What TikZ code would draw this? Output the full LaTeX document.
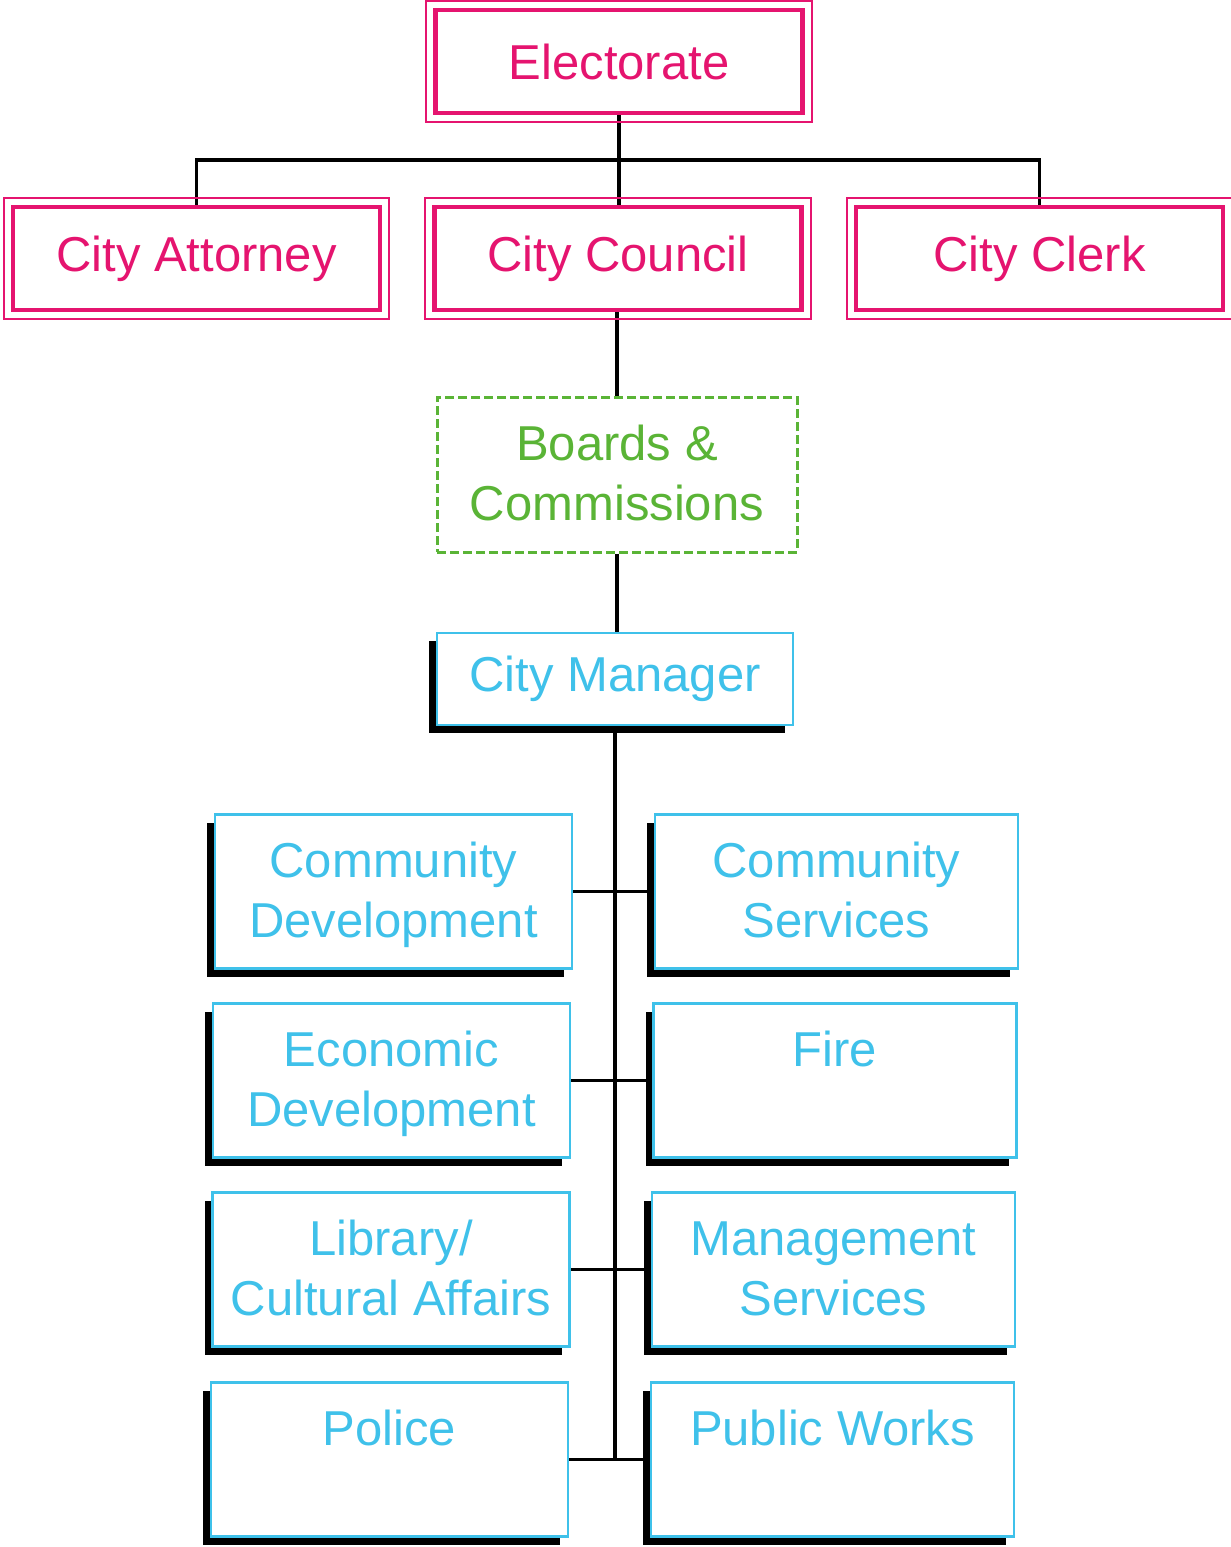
\documentclass[tikz,border=0pt]{standalone}
\usepackage{fontspec}
\setmainfont{Liberation Sans}
\usetikzlibrary{shadows,backgrounds}
\definecolor{mag}{HTML}{E5146F}
\definecolor{cyn}{HTML}{3FC1EA}
\definecolor{grn}{HTML}{5AB436}
\newcommand{\topstrut}{\rule{0pt}{50pt}}
\begin{document}
\begin{tikzpicture}[x=1pt,y=-1pt,
  txt/.style={font=\fontsize{49}{60}\selectfont, align=center},
  topbox/.style={txt, draw=mag, text=mag, line width=4.5pt, fill=white,
    minimum width=367pt, minimum height=103pt, inner sep=0pt},
  outerline/.style={draw=mag, line width=2pt},
  bcbox/.style={txt, draw=grn, text=grn, line width=3pt, dash pattern=on 9pt off 4pt,
    fill=white, minimum width=360pt, minimum height=155pt, inner sep=0pt},
  shbox/.style={txt, draw=cyn, text=cyn, line width=2.5pt, fill=white, inner sep=0pt,
    drop shadow={shadow xshift=-8pt, shadow yshift=-8pt, fill=black, opacity=1}},
  deptL/.style={shbox, minimum width=357pt, minimum height=154pt},
  deptR/.style={shbox, minimum width=363pt, minimum height=154pt},
  conn/.style={draw=black, line width=3.5pt}]
\useasboundingbox (0,0) rectangle (1231,1547);

% top row
\node[topbox] (elec) at (619,61.5) {Electorate};
\node[topbox] (att) at (196.5,258.5) {City Attorney};
\node[topbox] (council) at (618,258.5) {City Council};
\node[topbox] (clerk) at (1039.5,258.5) {City Clerk};
\foreach \n in {elec,att,council,clerk}
  \draw[outerline] ([shift={(-7,-7)}]\n.north west) rectangle ([shift={(7,7)}]\n.south east);

\node[bcbox] (bc) at (617,474.5) {\topstrut Boards \&\\Commissions\strut};
\node[shbox, minimum width=356pt, minimum height=92pt] (cm) at (615,679) {City Manager};

% departments
\node[deptL] (cd) at (393.5,891.5) {\topstrut Community\\Development\strut};
\node[deptR] (cs) at (836.5,891.5) {\topstrut Community\\Services\strut};
\node[deptL] (ed) at (391.5,1080.5) {\topstrut Economic\\Development\strut};
\node[deptR] (fire) at (835,1080.5) {\topstrut Fire\\\strut};
\node[deptL] (lib) at (391,1269.5) {\topstrut Library/\\Cultural Affairs\strut};
\node[deptR] (ms) at (833.5,1269.5) {\topstrut Management\\Services\strut};
\node[deptL] (pol) at (389.5,1459.5) {\topstrut Police\\\strut};
\node[deptR] (pw) at (832.5,1459.5) {\topstrut Public Works\\\strut};

\coordinate (j) at (618,160);
\begin{scope}[on background layer]
  \fill[white] (0,0) rectangle (1231,1547);
  \draw[conn] (elec.south) -- (elec.south |- council.north);
  \draw[conn] (att.north) |- (j) -| (clerk.north);
  \draw[conn] (bc.north |- council.south) -- (bc.north);
  \draw[conn] (bc.south) -- (bc.south |- cm.north);
  \draw[conn] (cm.south) -- (cm.south |- pol.east);
  \draw[conn] (cd.east) -- (cs.west);
  \draw[conn] (ed.east) -- (fire.west);
  \draw[conn] (lib.east) -- (ms.west);
  \draw[conn] (pol.east) -- (pw.west);
\end{scope}
\end{tikzpicture}
\end{document}
